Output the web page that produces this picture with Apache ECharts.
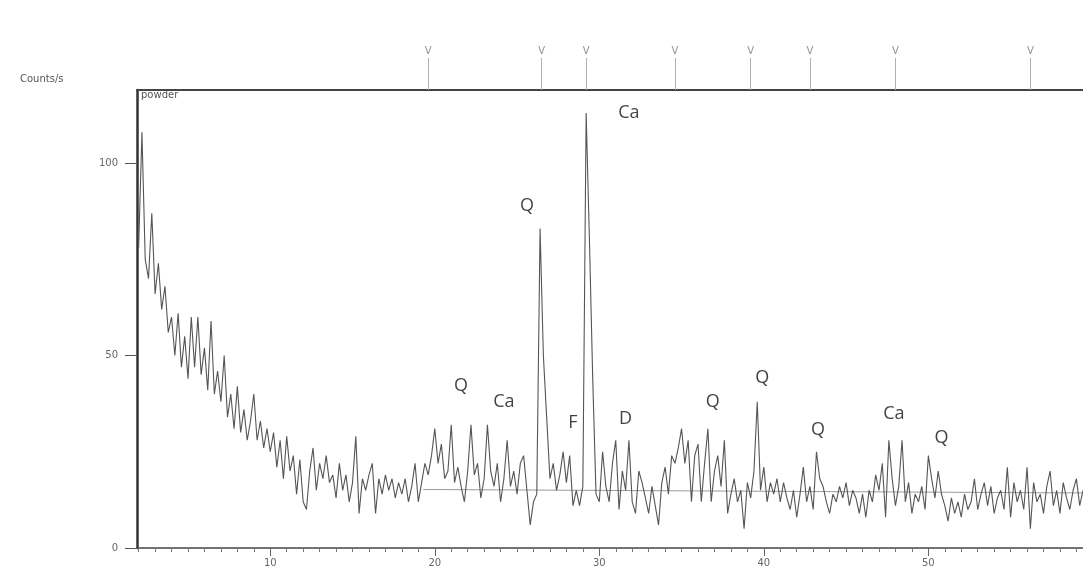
<!DOCTYPE html>
<html>
<head>
<meta charset="utf-8">
<script src="https://cdn.jsdelivr.net/npm/echarts@6/dist/echarts.min.js"></script>
<style>
html,body{margin:0;padding:0;background:#fff;}
#chart{width:1083px;height:574px;}
</style>
</head>
<body>
<div id="chart"></div>
<script>
// XRD scan: 2θ from 2.0° in 0.2° steps, counts/s
const startAngle = 2.0;
const stepAngle = 0.2;
const counts = [
  78,108,75,70,87,   66,74,62,68,56,   60,50,61,47,55,   44,60,47,60,45,
  52,41,59,40,46,   38,50,34,40,31,   42,30,36,28,33,   40,28,33,26,31,
  25,30,21,28,18,   29,20,24,14,23,   12,10,20,26,15,   22,18,24,17,19,
  13,22,15,19,12,   17,29,9,18,15,    19,22,9,18,14,    19,15,18,13,17,
  14,18,12,16,22,   12,17,22,19,24,   31,22,27,18,20,   32,17,21,16,12,
  20,32,19,22,13,   18,32,20,16,22,   12,18,28,16,20,   14,22,24,15,6,
  12,14,83,50,34,   18,22,15,19,25,   17,24,11,15,11,   16,113,80,44,14,
  12,25,16,12,22,   28,10,20,15,28,   12,9,20,17,13,    9,16,11,6,17,
  21,14,24,22,26,   31,22,28,12,24,   27,12,22,31,12,   20,24,16,28,9,
  14,18,12,15,5,    17,13,20,38,15,   21,12,17,14,18,   12,17,13,10,15,
  8,14,21,12,16,    10,25,18,16,12,   9,14,12,16,13,    17,11,15,13,9,
  14,8,15,12,19,    15,22,8,28,18,    11,16,28,12,17,   9,14,12,16,10,
  24,18,13,20,14,   11,7,13,9,12,     8,14,10,12,18,    10,14,17,11,16,
  9,13,15,10,21,    8,17,12,15,10,    21,5,17,12,14,    9,16,20,11,15,
  9,17,13,10,15,    18,11,15
];
const twoTheta = counts.map((_, i) => +(startAngle + i * stepAngle).toFixed(1));

// background level line (2θ, counts)
const backgroundAngles = [19.3, 59.4];
const backgroundCounts = [15.2, 14.3];

// reference-pattern markers above the frame
const markerAngles = [19.6, 26.5, 29.2, 34.6, 39.2, 42.8, 48.0, 56.2];

// phase annotations
const peakNames = ['Q', 'Ca', 'Q', 'Ca', 'F', 'D', 'Q', 'Q', 'Q', 'Ca', 'Q'];
const peakLabelAngles = [25.6, 31.8, 21.6, 24.2, 28.4, 31.6, 36.9, 39.9, 43.3, 47.9, 50.8];
const peakLabelCounts = [89, 113, 42, 38, 32.6, 33.6, 38, 44.3, 30.7, 34.9, 28.6];

const xTicksMajor = [10, 20, 30, 40, 50];
const xTicksMinor = [];
for (let t = 2; t <= 59; t++) xTicksMinor.push(t);
const yTicks = [0, 50, 100];
const xMin = 1.9, xMax = 59.4, yMax = 119;

const chart = echarts.init(document.getElementById('chart'), null, {renderer: 'canvas'});

const axisFont = {fontFamily: 'DejaVu Sans', fontSize: 10, color: '#666'};

const option = {
  animation: false,
  backgroundColor: '#ffffff',
  grid: [
    {left: 137, right: 0, top: 90, bottom: 26},
    {left: 137, right: 0, top: 58, height: 32}
  ],
  xAxis: [
    { // minor ticks
      type: 'value', gridIndex: 0, min: xMin, max: xMax, position: 'bottom',
      axisLine: {show: true, lineStyle: {color: '#444', width: 1.5}},
      axisTick: {show: true, length: 4, customValues: xTicksMinor, lineStyle: {color: '#777'}},
      axisLabel: {show: false},
      splitLine: {show: false}
    },
    { // major ticks + labels
      type: 'value', gridIndex: 0, min: xMin, max: xMax, position: 'bottom',
      axisLine: {show: false},
      axisTick: {show: true, length: 8, customValues: xTicksMajor, lineStyle: {color: '#666'}},
      axisLabel: Object.assign({show: true, margin: 10, customValues: xTicksMajor}, axisFont),
      splitLine: {show: false}
    },
    { // top frame
      type: 'value', gridIndex: 0, min: xMin, max: xMax, position: 'top',
      axisLine: {show: true, lineStyle: {color: '#444', width: 2}},
      axisTick: {show: false}, axisLabel: {show: false}, splitLine: {show: false}
    },
    { // marker strip
      type: 'value', gridIndex: 1, min: xMin, max: xMax, show: false
    }
  ],
  yAxis: [
    {
      type: 'value', gridIndex: 0, min: 0, max: yMax,
      axisLine: {show: true, lineStyle: {color: '#333', width: 2.5}},
      axisTick: {show: true, length: 12, customValues: yTicks, lineStyle: {color: '#555'}},
      axisLabel: Object.assign({show: true, margin: 19, customValues: yTicks}, axisFont),
      splitLine: {show: false}
    },
    {type: 'value', gridIndex: 1, min: 0, max: 1, show: false}
  ],
  graphic: [
    {type: 'text', left: 20, top: 74, style: {text: 'Counts/s', font: '10px "DejaVu Sans"', fill: '#555'}},
    {type: 'text', left: 141, top: 90, style: {text: 'powder', font: '10px "DejaVu Sans"', fill: '#555'}}
  ],
  series: [
    {
      type: 'line', xAxisIndex: 0, yAxisIndex: 0,
      data: backgroundAngles.map((a, i) => [a, backgroundCounts[i]]),
      symbol: 'none', lineStyle: {color: '#9a9a9a', width: 1}, silent: true, z: 1
    },
    {
      type: 'line', xAxisIndex: 0, yAxisIndex: 0,
      data: twoTheta.map((a, i) => [a, counts[i]]),
      symbol: 'none', lineStyle: {color: '#555555', width: 1.1}, silent: true, z: 2
    },
    {
      type: 'scatter', xAxisIndex: 0, yAxisIndex: 0,
      data: peakNames.map((n, i) => ({name: n, value: [peakLabelAngles[i], peakLabelCounts[i]]})),
      symbolSize: 0,
      label: {show: true, position: 'inside', formatter: p => p.name,
              fontFamily: 'Open Sans', fontSize: 18, color: '#111'},
      silent: true, z: 5
    },
    {
      type: 'scatter', xAxisIndex: 3, yAxisIndex: 1,
      data: markerAngles.map(a => [a, 1]),
      symbolSize: 0,
      label: {show: true, position: 'top', distance: 2, formatter: 'V',
              fontFamily: 'DejaVu Sans', fontSize: 10, color: '#777'},
      markLine: {
        silent: true, symbol: 'none', label: {show: false},
        lineStyle: {color: '#b0b0b0', width: 1, type: 'solid'},
        data: markerAngles.map(a => ({xAxis: a}))
      },
      silent: true
    }
  ]
};
chart.setOption(option);
</script>
</body>
</html>
